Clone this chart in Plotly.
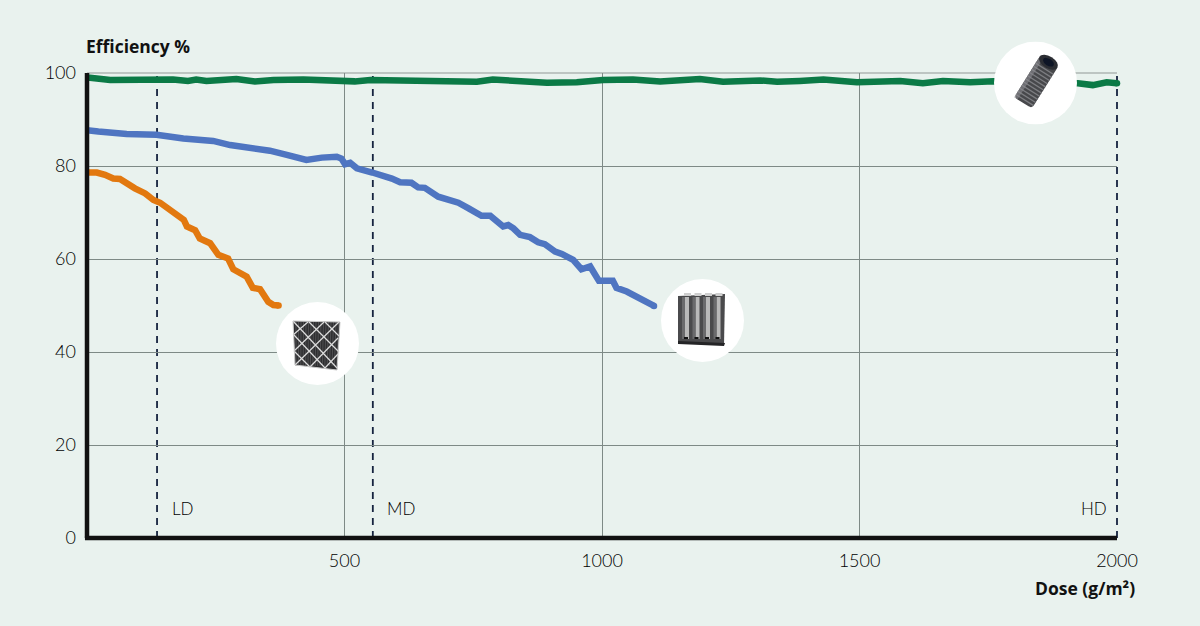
import base64
import plotly.graph_objects as go

# values
green_dose = [0, 6, 45, 77, 122, 167, 196, 212, 232, 265, 290, 326, 362, 420, 470, 520, 550, 607, 680, 757, 788,
              841, 893, 951, 1002, 1060, 1113, 1190, 1235, 1307, 1340, 1384, 1430, 1495, 1540, 1579, 1623, 1662,
              1715, 1760, 1800, 1880, 1924, 1953, 1980, 2000]
green_eff = [99.0, 99.0, 98.5, 98.5, 98.7, 98.6, 98.3, 98.6, 98.3, 98.4, 98.7, 98.2, 98.5, 98.6, 98.4, 98.2, 98.5,
             98.3, 98.3, 98.1, 98.6, 98.3, 97.9, 98.0, 98.5, 98.6, 98.2, 98.7, 98.1, 98.4, 98.1, 98.3, 98.6, 98.0,
             98.0, 98.3, 97.8, 98.3, 98.0, 98.2, 98.0, 98.0, 97.8, 97.4, 98.0, 97.8]

blue_dose = [0, 6, 22, 77, 135, 187, 245, 278, 336, 355, 388, 426, 456, 485, 494, 501, 511, 524, 554, 576, 592,
             608, 630, 643, 656, 682, 695, 708, 721, 741, 754, 766, 783, 796, 808, 818, 828, 841, 860, 876, 889,
             909, 922, 944, 954, 960, 977, 983, 994, 1021, 1028, 1048, 1080, 1101]
blue_eff = [87.7, 87.7, 87.4, 86.9, 86.7, 85.9, 85.4, 84.5, 83.6, 83.3, 82.4, 81.3, 81.8, 82.0, 81.6, 80.4, 80.7,
            79.5, 78.6, 77.9, 77.3, 76.5, 76.4, 75.4, 75.3, 73.4, 73.0, 72.3, 72.1, 70.9, 70.2, 69.3, 69.3, 68.0,
            67.0, 67.3, 66.6, 65.2, 64.7, 63.6, 63.2, 61.6, 61.1, 59.8, 58.2, 57.8, 58.4, 57.3, 55.3, 55.3, 53.8,
            53.0, 51.3, 49.9]

orange_dose = [0, 6, 19, 35, 51, 64, 74, 93, 113, 129, 142, 161, 177, 188, 194, 210, 219, 239, 255, 274, 284, 310,
               322, 336, 352, 362, 372]
orange_eff = [78.6, 78.6, 78.6, 78.1, 77.3, 77.2, 76.4, 75.2, 74.1, 72.7, 72.1, 70.5, 68.9, 68.4, 67.0, 66.2, 64.4,
              63.4, 60.9, 60.1, 57.8, 56.2, 53.8, 53.5, 50.8, 50.1, 50.0]

x_ticks = [500, 1000, 1500, 2000]
y_ticks = [0, 20, 40, 60, 80, 100]
zone_dose = [136, 555, 2000]
zone_labels = ["LD", "MD", "HD"]
zone_label_dose = [162, 578, 1926]

FONT = "Lato Light, Lato"
BOLD_FONT = "Open Sans"
BG = "#E9F2EE"
W = 1030
H = 465


def svg_uri(body):
    svg = ('<svg xmlns="http://www.w3.org/2000/svg" width="166" height="166" viewBox="0 0 83 83">'
           '<circle cx="41.5" cy="41.5" r="41.5" fill="white"/>' + body + '</svg>')
    return "data:image/svg+xml;base64," + base64.b64encode(svg.encode()).decode()


# panel filter
panel = '<polygon points="17,19 64,20 61,68 19,63" fill="#2e2e30"/>'
for i in range(18):
    panel += '<line x1="%.1f" y1="20" x2="%.1f" y2="64" stroke="#58585a" stroke-width="0.8"/>' % (20 + i * 2.5, 20 + i * 2.4)
panel += ('<path d="M17 19 L61 66 M33 20 L63 50 M49 20 L63 34 M18 33 L49 66 M18 49 L34 65 '
          'M17 33 L32 20 M18 49 L48 20 M19 63 L63 20 M34 65 L62 36 M49 66 L62 52" stroke="#dcdcdc" '
          'stroke-width="1.2" fill="none"/>'
          '<polygon points="17,19 64,20 61,68 19,63" fill="none" stroke="#c9c9c9" stroke-width="1"/>')

# v-bag filter
vbag = '<polygon points="17,17 64,15 63,66 17,64" fill="#4a4a4c"/>'
for i in range(4):
    x = 21 + i * 10.5
    vbag += ('<rect x="%.1f" y="18" width="4" height="42" fill="#b9b9b9"/>'
             '<rect x="%.1f" y="18" width="3" height="42" fill="#6a6a6c"/>'
             '<rect x="%.1f" y="14" width="7" height="3" fill="#cfcfcf"/>'
             '<rect x="%.1f" y="58" width="4" height="2" fill="#111"/>') % (x + 3, x, x + 2, x + 2)
vbag += '<polygon points="17,62 64,64 63,67 17,65" fill="#242426"/>'

# cartridge
tube = '<g transform="rotate(32 41.5 41.5)"><rect x="31" y="15" width="21" height="50" rx="4" fill="#47484b"/>'
for i in range(11):
    tube += '<rect x="31" y="%.1f" width="21" height="1.3" fill="#7d7e82"/>' % (24 + i * 3.7)
tube += ('<rect x="31" y="15" width="4" height="50" fill="#8a8b8f" opacity="0.6"/>'
         '<ellipse cx="41.5" cy="17" rx="10.5" ry="6" fill="#2b2d33"/>'
         '<ellipse cx="41.5" cy="17" rx="6" ry="3.5" fill="#0e1526"/></g>')

fig = go.Figure()

for xs, ys, color in [(orange_dose, orange_eff, "#E2780F"), (blue_dose, blue_eff, "#4F75C1"),
                      (green_dose, green_eff, "#0B7A46")]:
    fig.add_trace(go.Scatter(x=xs, y=ys, mode="lines", cliponaxis=False, line=dict(color=color, width=6.5)))
    # rounded line end
    fig.add_trace(go.Scatter(x=xs[-1:], y=ys[-1:], mode="markers", cliponaxis=False,
                             marker=dict(color=color, size=6.5)))

# the top grid line is paler than the others
fig.add_shape(type="line", xref="paper", yref="paper", x0=0, x1=1, y0=1, y1=1, layer="between",
              line=dict(color="#AEB6B3", width=1.6))

for z in zone_dose:
    fig.add_shape(type="line", xref="paper", yref="paper", x0=z / 2000, x1=z / 2000, y0=0, y1=1, layer="between",
                  line=dict(color="#16233F", width=1.8, dash="7px,6px"))

# thick axes, centred on the zero lines
fig.add_shape(type="line", xref="paper", yref="paper", x0=-0.002, x1=1, y0=0, y1=0,
              line=dict(color="#111111", width=4.5))
fig.add_shape(type="line", xref="paper", yref="paper", x0=0, x1=0, y0=0, y1=1,
              line=dict(color="#111111", width=4.5))

for uri, cx, cy in [(svg_uri(panel), 317.5, 343.5), (svg_uri(vbag), 702.5, 320.5), (svg_uri(tube), 1035.5, 83)]:
    fig.add_layout_image(source=uri, x=(cx - 87) / W, y=(538 - cy) / H, xref="paper", yref="paper",
                         sizex=83 / W, sizey=83 / H, xanchor="center", yanchor="middle", layer="above",
                         sizing="contain")

for text, x in zip(zone_labels, zone_label_dose):
    fig.add_annotation(x=x, y=6.4, text=text, showarrow=False, xanchor="left",
                       font=dict(family=FONT, size=17, color="#000000"))

fig.add_annotation(xref="paper", yref="paper", x=-0.003, y=1.0, yshift=13, text="<b>Efficiency %</b>",
                   showarrow=False, xanchor="left", yanchor="bottom",
                   font=dict(family=BOLD_FONT, size=17.5, color="#111111"))
fig.add_annotation(xref="paper", yref="paper", x=1.0195, y=-0.085, yshift=4, text="<b>Dose (g/m²)</b>",
                   showarrow=False, xanchor="right", yanchor="top",
                   font=dict(family=BOLD_FONT, size=17.5, color="#111111"))

fig.update_layout(
    width=1200, height=626,
    margin=dict(l=87, r=83, t=73, b=88),
    paper_bgcolor=BG, plot_bgcolor=BG,
    showlegend=False,
    font=dict(family=FONT, size=18, color="#000000"),
    xaxis=dict(range=[0, 2000], tickvals=x_ticks, showgrid=True, gridcolor="#7E8A86", gridwidth=1,
               zeroline=False, showline=False, ticks="", ticklabelstandoff=10),
    yaxis=dict(range=[0, 100], tickvals=y_ticks, showgrid=True, gridcolor="#7E8A86", gridwidth=1,
               zeroline=False, showline=False, ticks="", ticklabelstandoff=10),
)

fig.write_html("out.html", config=dict(displayModeBar=False), post_script="document.body.style.margin='0';")
